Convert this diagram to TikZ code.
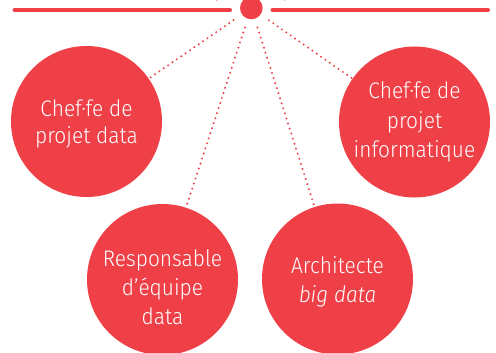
\documentclass[tikz,border=0pt]{standalone}
\usepackage{fontspec}
\setmainfont{Fira Sans Light}[FakeStretch=0.93]
\definecolor{cred}{RGB}{239,64,72}
\begin{document}
\begin{tikzpicture}[x=1pt,y=-1pt,
  bubble/.style={circle,fill=cred,draw=none,minimum size=151pt,inner sep=0pt},
  label/.style={text=white,align=center},
  hubdot/.style={circle,fill=cred,draw=none,minimum size=22.6pt,inner sep=0pt},
  dotline/.style={draw=cred,line width=2.2pt,line cap=round,dash pattern=on 0pt off 5.3pt},
  bar/.style={draw=cred,line width=4pt,line cap=round}]
\useasboundingbox (0,0) rectangle (496,353);
\clip (0,0) rectangle (496,353);
% top bar
\coordinate (b1) at (14.5,10);
\coordinate (b2) at (230,10);
\coordinate (b3) at (272.5,10);
\coordinate (b4) at (488,10);
\draw[bar] (b1) -- (b2);
\draw[bar] (b3) -- (b4);
% hub
\node[hubdot] (hub) at (251.3,8) {};
% bubbles
\node[bubble] (c1) at (86.5,121.5) {};
\node[bubble] (c2) at (414.5,122) {};
\node[bubble] (c3) at (162.5,279.5) {};
\node[bubble] (c4) at (337.5,279) {};
% texts
\node[label,font=\fontsize{22.5}{27}\selectfont] (t1) at (86.5,124) {Chef·fe de\\projet data};
\node[label,font=\fontsize{22.5}{29.5}\selectfont] (t2) at (414.5,122) {Chef·fe de\\projet\\informatique};
\node[label,font=\fontsize{22.5}{29}\selectfont] (t3) at (162.5,287) {Responsable\\d’équipe\\data};
\node[label,font=\fontsize{22.5}{29}\selectfont] (t4) at (337.5,282) {Architecte\\\textit{big data}};
% connectors
\draw[dotline,shorten <=10pt] (hub) -- (c1);
\draw[dotline,shorten <=9pt] (hub) -- (c3);
\draw[dotline,shorten <=9pt] (hub) -- (c4);
\draw[dotline,shorten <=10pt] (hub) -- (c2);
% partial lines leaving the top edge
\coordinate (tl) at (181,-9);
\coordinate (tr) at (319,-9);
\draw[dotline,shorten <=24pt] (hub) -- (tl);
\draw[dotline,shorten <=23pt] (hub) -- (tr);
\end{tikzpicture}
\end{document}
